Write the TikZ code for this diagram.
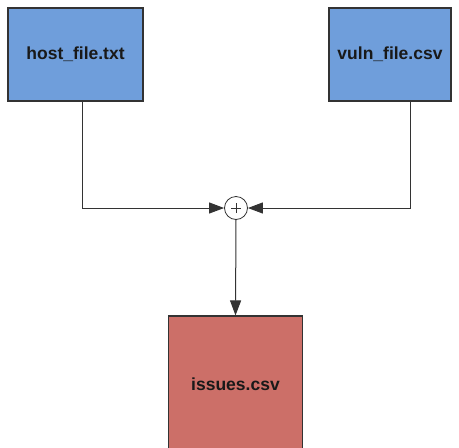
\documentclass[tikz,border=0pt]{standalone}
\usepackage{fontspec}
\setmainfont{Liberation Sans}
\usetikzlibrary{arrows.meta}

\definecolor{fileblue}{HTML}{6F9EDB}
\definecolor{filered}{HTML}{CC6F68}
\definecolor{edgegray}{HTML}{333333}

\tikzset{
  filebox/.style={draw=edgegray,line width=1.1pt,inner sep=0pt,
    font=\fontsize{17.5}{20}\selectfont\bfseries,text=black!90},
  joiner/.style={circle,draw=edgegray,line width=0.8pt,minimum size=23pt,inner sep=0pt,
    path picture={\draw[line width=0.9pt] ([xshift=-5pt]path picture bounding box.center)
      -- ([xshift=5pt]path picture bounding box.center)
      ([yshift=-5pt]path picture bounding box.center)
      -- ([yshift=5pt]path picture bounding box.center);}},
  link/.style={draw=edgegray,line width=1pt,-{Triangle[length=15pt,width=11pt]}}
}

\begin{document}
\begin{tikzpicture}[x=1pt,y=-1pt]
   \useasboundingbox (0,0) rectangle (459,448);
   \clip (0,0) rectangle (459,448);
   \node [filebox,fill=fileblue,minimum width=135pt,minimum height=93pt] (host) at (75.5,54.5) {host\_file.txt};
   \node [filebox,fill=fileblue,minimum width=122pt,minimum height=93pt] (vuln) at (390,54.5) {vuln\_file.csv};
   \node [joiner] (plus) at (236,208) {};
   \node [filebox,fill=filered,minimum width=134pt,minimum height=136pt] (issues) at (235.5,384) {issues.csv};
   \draw [link] ([xshift=6.5pt]host.south) |- (plus.west);
   \draw [link] ([xshift=20pt]vuln.south) |- (plus.east);
   \draw [link] (plus.south) -- (issues.north);
\end{tikzpicture}
\end{document}
